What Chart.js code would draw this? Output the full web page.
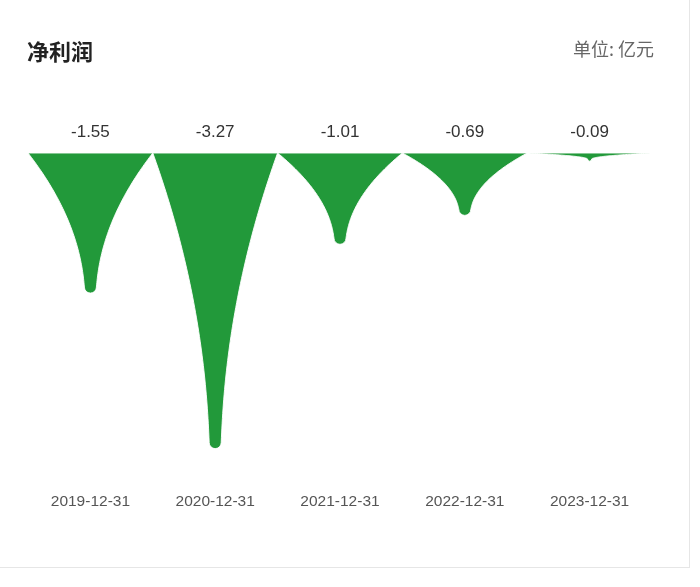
<!DOCTYPE html>
<html>
<head>
<meta charset="utf-8">
<script src="https://cdn.jsdelivr.net/npm/chart.js@4"></script>
<style>
  body { margin: 0; background: #fff; }
  #wrap { position: relative; width: 700px; height: 587px; }
  .card { position: absolute; left: 0; top: 0; width: 689px; height: 567px;
          border-right: 1px solid #e6e6e6; border-bottom: 1px solid #e6e6e6; }
  #title { position: absolute; left: 27px; top: 34px; font: bold 22px "Noto Sans CJK SC"; color: #222; }
  #unit { position: absolute; right: 46px; top: 35px; font: 18px "Noto Sans CJK SC"; color: #666; }
  canvas { position: absolute; left: 0; top: 0; }
</style>
</head>
<body>
<div id="wrap">
  <div class="card"></div>
  <canvas id="myChart" width="700" height="587"></canvas>
  <div id="title">净利润</div>
  <div id="unit">单位: 亿元</div>
</div>
<script>
const categories = ['2019-12-31', '2020-12-31', '2021-12-31', '2022-12-31', '2023-12-31'];
const netProfit = [-1.55, -3.27, -1.01, -0.69, -0.09];
const green = '#22993a';

// drip-shaped spike drawn from each bar element's x / y / base / width
const spikes = {
  id: 'spikes',
  afterDatasetsDraw(chart) {
    const c = chart.ctx;
    chart.getDatasetMeta(0).data.forEach((bar) => {
      const { x, y, base, width } = bar.getProps(['x', 'y', 'base', 'width'], true);
      const hw = width / 2, d = y - base;
      const t = Math.min(6, d / 4);   // tip radius
      const m = Math.min(8, d / 8);   // stem thickness
      const span = d - t;
      const half = (f) => (hw - t - m) * Math.pow(1 - f, 2) + m * Math.pow(1 - f, 0.9) + t;
      const N = 60;
      c.save();
      c.beginPath();
      c.moveTo(x - hw, base);
      for (let k = 1; k <= N; k++) {
        const f = k / N;
        c.lineTo(x - half(f), base + f * span);
      }
      c.arc(x, y - t, t, Math.PI, 0, true);
      for (let k = N; k >= 0; k--) {
        const f = k / N;
        c.lineTo(x + half(f), base + f * span);
      }
      c.closePath();
      c.fillStyle = green;
      c.fill();
      c.strokeStyle = 'rgba(255,255,255,0.9)';
      c.lineWidth = 1;
      c.stroke();
      c.restore();
    });
  }
};

// value labels above the baseline
const valueLabels = {
  id: 'valueLabels',
  afterDatasetsDraw(chart) {
    const c = chart.ctx;
    c.save();
    c.font = '17px "Liberation Sans", Arial, sans-serif';
    c.fillStyle = '#333';
    c.textAlign = 'center';
    c.textBaseline = 'middle';
    chart.getDatasetMeta(0).data.forEach((bar, i) => {
      const { x, base } = bar.getProps(['x', 'base'], true);
      c.fillText(netProfit[i].toFixed(2), x, base - 21);
    });
    c.restore();
  }
};

const ctx = document.getElementById('myChart');
new Chart(ctx, {
  type: 'bar',
  data: {
    labels: categories,
    datasets: [{
      label: '净利润',
      data: netProfit,
      backgroundColor: 'rgba(0,0,0,0)',
      borderWidth: 0,
      barPercentage: 1,
      categoryPercentage: 1
    }]
  },
  options: {
    responsive: false,
    animation: false,
    layout: { padding: { top: 153, left: 28, right: 48, bottom: 53 } },
    plugins: { legend: { display: false }, tooltip: { enabled: false } },
    scales: {
      y: { display: false, min: -3.5, max: 0 },
      x: {
        grid: { display: false, drawTicks: false },
        border: { display: false },
        ticks: {
          maxRotation: 0,
          padding: 23,
          color: '#555',
          font: { family: '"Liberation Sans", Arial, sans-serif', size: 15.5 }
        }
      }
    }
  },
  plugins: [spikes, valueLabels]
});
</script>
</body>
</html>
